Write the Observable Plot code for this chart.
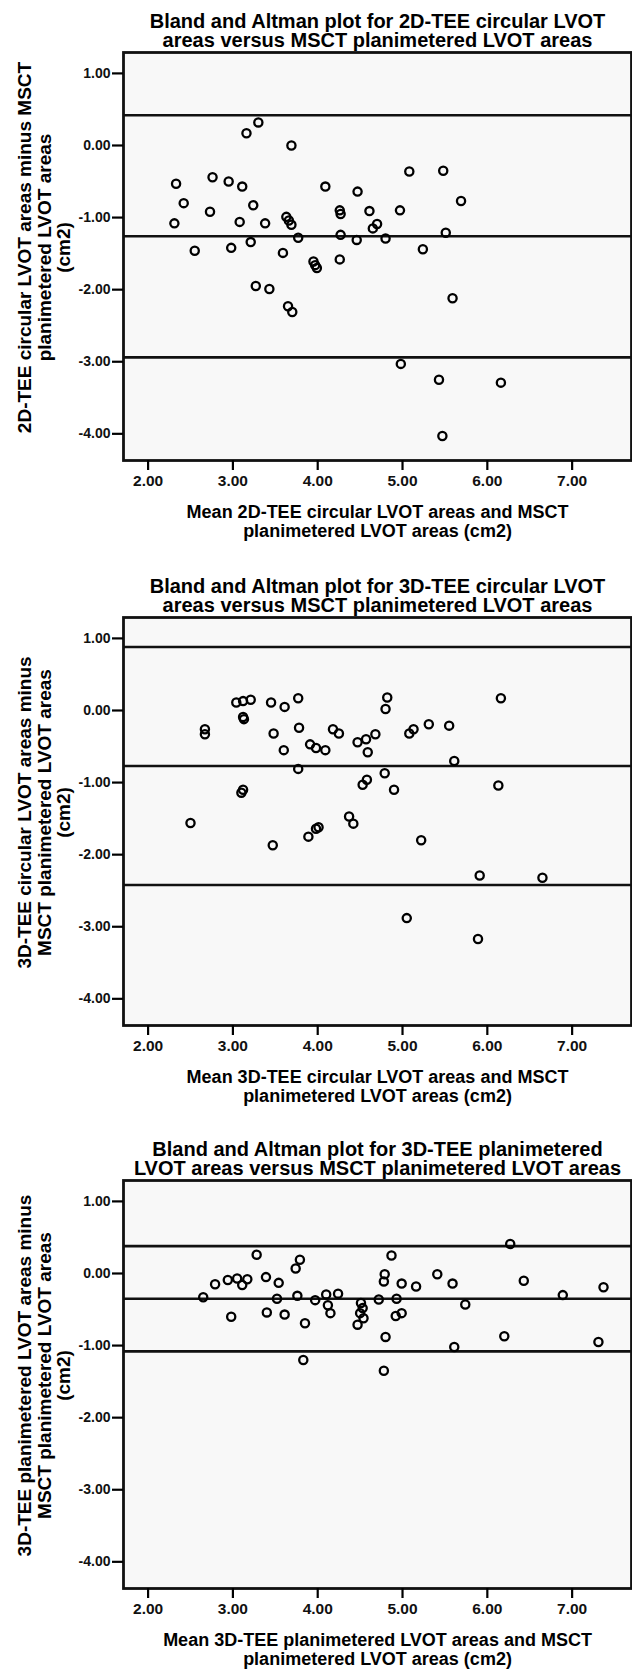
<!DOCTYPE html>
<html>
<head>
<meta charset="utf-8">
<script src="https://cdn.jsdelivr.net/npm/d3@7"></script>
<script src="https://cdn.jsdelivr.net/npm/@observablehq/plot@0.6"></script>
<style>
  html, body { margin: 0; padding: 0; background: #ffffff; }
  #chart { width: 632px; }
  #chart svg { display: block; }
</style>
</head>
<body>
<div id="chart"></div>
<script>
// ---- shared axes ----
const xDomain = [1.71, 7.70];
const yDomain = [-4.37, 1.29];
const xTicks = [2, 3, 4, 5, 6, 7];
const yTicks = [1, 0, -1, -2, -3, -4];

// ---- panel 1: 2D-TEE circular vs MSCT ----
const p1Title = "Bland and Altman plot for 2D-TEE circular LVOT\nareas versus MSCT planimetered LVOT areas";
const p1XLabel = "Mean 2D-TEE circular LVOT areas and MSCT\nplanimetered LVOT areas (cm2)";
const p1YLabel = "2D-TEE circular LVOT areas minus MSCT\nplanimetered LVOT areas\n(cm2)";
const p1Mean = [2.33, 2.42, 2.31, 2.55, 2.76, 2.73, 2.95, 2.98, 3.08, 3.11, 3.16, 3.30, 3.24, 3.21, 3.27, 3.43, 3.38,
  3.59, 3.63, 3.66, 3.69, 3.69, 3.77, 3.95, 3.97, 3.99, 3.65, 3.70, 4.09, 4.26, 4.27, 4.27, 4.26, 4.47, 4.61, 4.70,
  4.65, 4.46, 4.80, 4.97, 5.08, 5.48, 5.69, 5.51, 5.24, 5.59, 4.98, 5.43, 6.16, 5.47];
const p1Diff = [-0.53, -0.80, -1.08, -1.46, -0.44, -0.92, -0.50, -1.42, -1.06, -0.57, 0.17, 0.32, -0.83, -1.34, -1.95, -1.99, -1.08,
  -1.49, -0.99, -1.04, -1.10, 0.00, -1.28, -1.61, -1.66, -1.70, -2.23, -2.31, -0.57, -0.90, -0.95, -1.24, -1.58, -0.64, -0.91, -1.09,
  -1.15, -1.31, -1.29, -0.90, -0.36, -0.35, -0.77, -1.21, -1.44, -2.12, -3.03, -3.25, -3.29, -4.03];
const p1Lines = [0.42, -1.26, -2.94];

// ---- panel 2: 3D-TEE circular vs MSCT ----
const p2Title = "Bland and Altman plot for 3D-TEE circular LVOT\nareas versus MSCT planimetered LVOT areas";
const p2XLabel = "Mean 3D-TEE circular LVOT areas and MSCT\nplanimetered LVOT areas (cm2)";
const p2YLabel = "3D-TEE circular LVOT areas minus\nMSCT planimetered LVOT areas\n(cm2)";
const p2Mean = [2.67, 2.67, 2.50, 3.04, 3.12, 3.21, 3.12, 3.13, 3.12, 3.10, 3.45, 3.61, 3.77, 3.48, 3.60, 3.78, 3.91,
  3.98, 4.09, 3.77, 4.18, 4.25, 4.47, 4.57, 4.68, 4.59, 4.82, 4.80, 5.08, 5.13, 5.31, 5.55, 5.61, 6.16, 6.13, 4.79,
  4.90, 4.53, 4.58, 4.37, 4.42, 3.47, 3.89, 3.98, 4.01, 5.22, 5.91, 6.65, 5.05, 5.89];
const p2Diff = [-0.26, -0.33, -1.56, 0.11, 0.13, 0.15, -0.09, -0.12, -1.10, -1.14, 0.11, 0.05, 0.17, -0.32, -0.55, -0.24, -0.47,
  -0.52, -0.55, -0.81, -0.26, -0.32, -0.44, -0.40, -0.33, -0.58, 0.18, 0.02, -0.32, -0.26, -0.19, -0.21, -0.70, 0.17, -1.04, -0.87,
  -1.10, -1.03, -0.96, -1.47, -1.57, -1.87, -1.75, -1.64, -1.62, -1.80, -2.29, -2.32, -2.88, -3.17];
const p2Lines = [0.88, -0.77, -2.42];

// ---- panel 3: 3D-TEE planimetered vs MSCT ----
const p3Title = "Bland and Altman plot for 3D-TEE planimetered\nLVOT areas versus MSCT planimetered LVOT areas";
const p3XLabel = "Mean 3D-TEE planimetered LVOT areas and MSCT\nplanimetered LVOT areas (cm2)";
const p3YLabel = "3D-TEE planimetered LVOT areas minus\nMSCT planimetered LVOT areas\n(cm2)";
const p3Mean = [2.65, 2.79, 2.94, 3.05, 3.11, 3.17, 2.98, 3.28, 3.39, 3.54, 3.52, 3.40, 3.61, 3.74, 3.79, 3.76, 3.85,
  3.83, 3.97, 4.10, 4.24, 4.12, 4.15, 4.51, 4.53, 4.50, 4.54, 4.47, 4.72, 4.79, 4.78, 4.87, 4.80, 4.78, 4.93, 4.99,
  5.16, 4.99, 4.92, 5.41, 5.59, 5.74, 5.61, 6.27, 6.43, 6.20, 6.89, 7.37, 7.31];
const p3Diff = [-0.33, -0.15, -0.09, -0.07, -0.16, -0.08, -0.60, 0.26, -0.05, -0.13, -0.35, -0.54, -0.57, 0.07, 0.19, -0.31, -0.69,
  -1.20, -0.37, -0.29, -0.28, -0.44, -0.55, -0.41, -0.48, -0.55, -0.62, -0.71, -0.36, -0.01, -0.11, 0.25, -0.88, -1.35, -0.35, -0.14,
  -0.18, -0.55, -0.59, -0.01, -0.14, -0.43, -1.02, 0.41, -0.10, -0.87, -0.30, -0.19, -0.95];
const p3Lines = [0.38, -0.35, -1.08];

const FONT = "'Liberation Sans', Arial, Helvetica, sans-serif";
const fmt = d => d.toFixed(2);

function panel(title, xLabel, yLabel, means, diffs, lines, height, marginBottom) {
  const pts = means.map((m, i) => ({m, d: diffs[i]}));
  return Plot.plot({
    width: 632,
    height,
    marginTop: 52,
    marginBottom,
    marginLeft: 123,
    marginRight: 1,
    style: {fontFamily: FONT, background: "transparent", color: "#000"},
    x: {domain: xDomain, label: null},
    y: {domain: yDomain, label: null},
    marks: [
      Plot.frame({fill: "#f8f8f8"}),
      Plot.ruleY(lines, {stroke: "#111", strokeWidth: 2.6}),
      Plot.dot(pts, {x: "m", y: "d", r: 4.1, stroke: "#000", strokeWidth: 2.3, fill: "none"}),
      Plot.frame({stroke: "#111", strokeWidth: 2.8}),
      Plot.axisX({ticks: xTicks, tickFormat: fmt, tickSize: 10, tickPadding: 4, fontSize: 15.5, fontWeight: "bold",
        strokeWidth: 2.2, label: null, fill: "#111"}),
      Plot.axisY({ticks: yTicks, tickFormat: fmt, tickSize: 11, tickPadding: 2, fontSize: 14, fontWeight: "bold",
        strokeWidth: 2.2, label: null, fill: "#111"}),
      Plot.text([title], {text: d => d, frameAnchor: "top", textAnchor: "middle", lineAnchor: "middle", dy: -21.5,
        fontSize: 20, fontWeight: "bold", lineHeight: 0.95, fill: "#000"}),
      Plot.text([xLabel], {text: d => d, frameAnchor: "bottom", textAnchor: "middle", lineAnchor: "middle", dy: 61,
        fontSize: 18, fontWeight: "bold", lineHeight: 1.02, fill: "#000"}),
      Plot.text([yLabel], {text: d => d, frameAnchor: "left", textAnchor: "middle", lineAnchor: "middle", rotate: -90,
        dx: -79, dy: -9, fontSize: 19, fontWeight: "bold", lineHeight: 1.03, fill: "#000"})
    ]
  });
}

const root = document.getElementById("chart");
root.append(panel(p1Title, p1XLabel, p1YLabel, p1Mean, p1Diff, p1Lines, 565, 105));
root.append(panel(p2Title, p2XLabel, p2YLabel, p2Mean, p2Diff, p2Lines, 563, 103));
root.append(panel(p3Title, p3XLabel, p3YLabel, p3Mean, p3Diff, p3Lines, 543, 83));
</script>
</body>
</html>
